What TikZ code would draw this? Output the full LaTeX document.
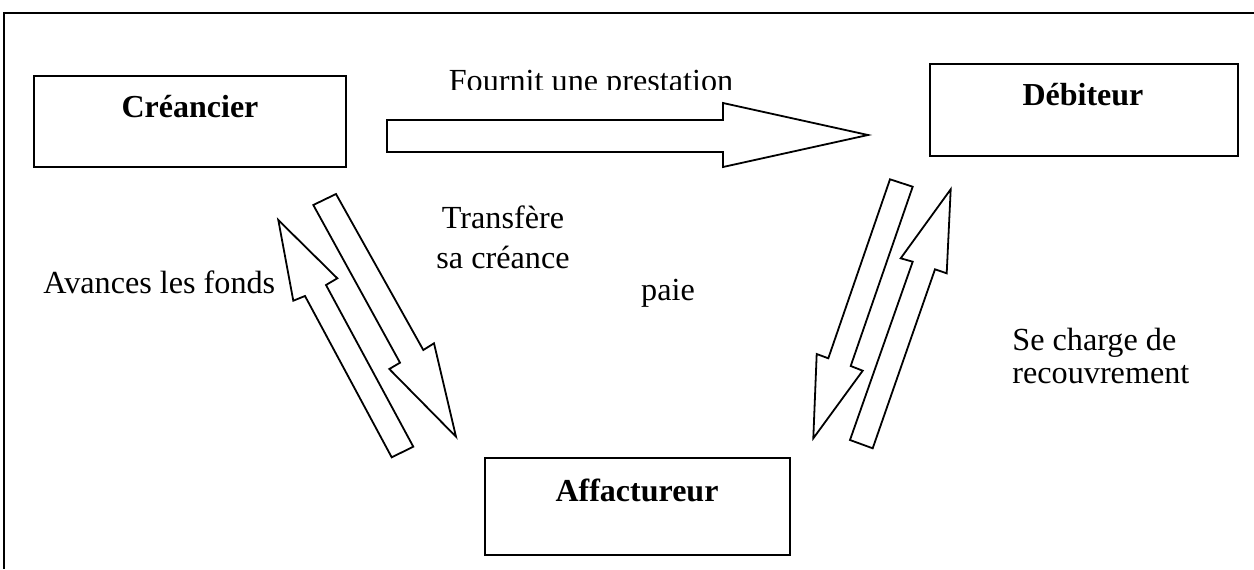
\documentclass[tikz,border=0pt]{standalone}
\usepackage{fontspec}
\setmainfont{Liberation Serif}
\begin{document}
\begin{tikzpicture}[x=0.5pt,y=-0.5pt,
  box/.style={draw, line width=1.2pt, minimum width=#1, inner sep=0pt},
  boxlbl/.style={anchor=base, inner sep=0pt, font=\fontsize{16}{19}\selectfont\bfseries},
  lbl/.style={inner sep=0pt, font=\fontsize{16.1}{20}\selectfont},
  blockarrow/.style={draw, line width=0.9pt, line join=miter, fill=white},
  frameline/.style={line width=1pt}]
\useasboundingbox (0,0) rectangle (1254,569);
\draw[frameline] (1254,13) -- (4,13) -- (4,569);

% boxes
\node[box=156pt, minimum height=45.5pt] (cre) at (190,121.5) {};
\node[box=154pt, minimum height=46pt] (deb) at (1084,110) {};
\node[box=152.5pt, minimum height=48.5pt] (aff) at (637.5,506.5) {};
\node[boxlbl] (creT) at (190,117) {Créancier};
\node[boxlbl] (debT) at (1083,105) {Débiteur};
\node[boxlbl] (affT) at (637,501) {Affactureur};

% block arrows
\draw[blockarrow] (387,120) -- (723,120) -- (723,103) -- (868,135) -- (723,167) -- (723,152) -- (387,152) -- cycle;
\draw[blockarrow] (313.3,205) -- (336,194) -- (423.3,350) -- (434,343.3) -- (456,436.7) -- (389.3,369) -- (400,362.7) -- cycle;
\draw[blockarrow] (391.7,457.3) -- (413.3,446.7) -- (326,285) -- (337.3,278.3) -- (278.3,220) -- (293.3,300.7) -- (305,296) -- cycle;
\draw[blockarrow] (890,179.3) -- (912.7,186.7) -- (850.7,366) -- (862.7,370.7) -- (813.3,438.3) -- (816.7,354) -- (828.3,358.3) -- cycle;
\draw[blockarrow] (850,440) -- (872.7,448.3) -- (935,269.3) -- (946.7,273.3) -- (950.7,189.3) -- (900.7,258.3) -- (912.7,261.7) -- cycle;

% labels
\begin{scope}
\clip (380,40) rectangle (900,89.5);
\node[lbl, anchor=base] (fournit) at (591,91) {Fournit une prestation};
\end{scope}
\node[lbl, anchor=base, align=center] (transf) at (503,268.3) {Transfère\\sa créance};
\node[lbl, anchor=base west] (avances) at (43,293) {Avances les fonds};
\node[lbl, anchor=base] (paie) at (668,300) {paie};
\node[lbl, anchor=base west, align=left, font=\fontsize{16.1}{16.5}\selectfont] (charge) at (1012,383.3) {Se charge de\\recouvrement};
\end{tikzpicture}
\end{document}
